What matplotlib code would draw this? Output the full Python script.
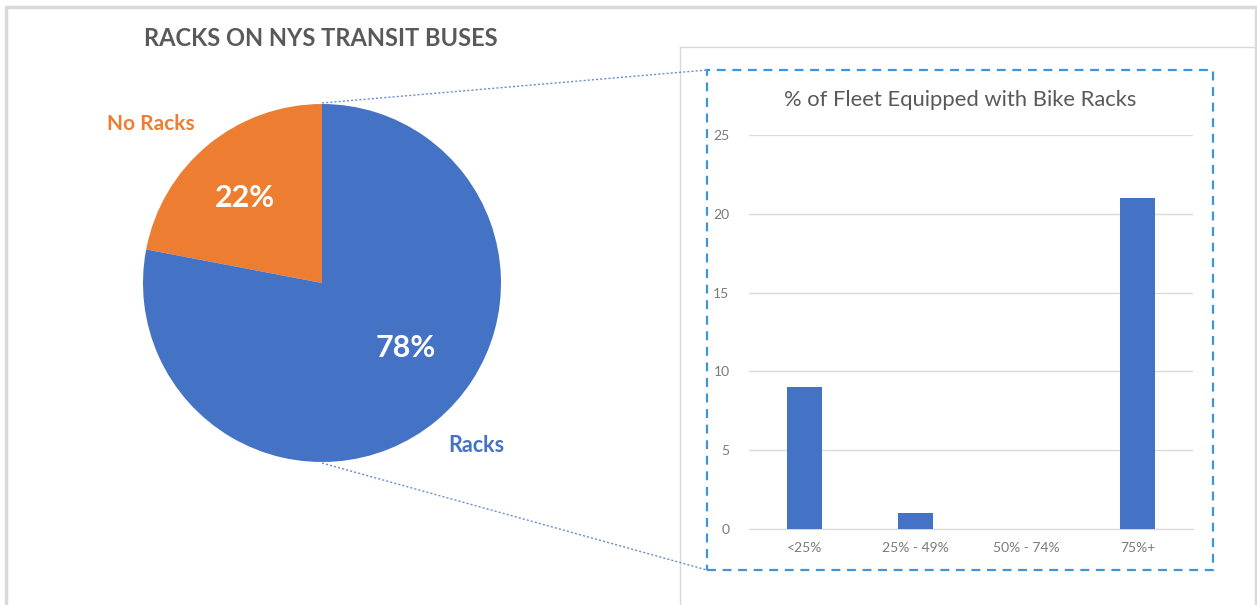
import matplotlib
matplotlib.use('Agg')
import matplotlib.pyplot as plt
from matplotlib.lines import Line2D
from matplotlib.patches import Rectangle

plt.rcParams['font.family'] = ['Lato', 'DejaVu Sans']

# --- data ---
pie_labels = ['No Racks', 'Racks']
pie_values = [22, 78]
pie_colors = ['#ED7D31', '#4472C4']

bar_cats = ['<25%', '25% - 49%', '50% - 74%', '75%+']
bar_vals = [9, 1, 0, 21]
bar_ticks = [0, 5, 10, 15, 20, 25]

W, H = 1257, 605


def fx(x):
    return x / W


def fy(y):
    return 1 - y / H


fig = plt.figure(figsize=(W / 100, H / 100), dpi=100)
fig.patch.set_facecolor('white')

# outer frame + inner panel
fig.add_artist(Rectangle((fx(6), fy(610)), fx(1256) - fx(6), fy(7) - fy(610),
                         transform=fig.transFigure, fill=False, ec='#d9d9d9', lw=2.5))
fig.add_artist(Line2D([fx(680), fx(1257)], [fy(47), fy(47)], transform=fig.transFigure,
                      color='#d9d9d9', lw=1))
fig.add_artist(Line2D([fx(680), fx(680)], [fy(47), fy(605)], transform=fig.transFigure,
                      color='#d9d9d9', lw=1))

# --- pie ---
cx, cy, r = 322, 283, 179
axp = fig.add_axes([fx(cx - r), fy(cy + r), fx(2 * r), fy(cy - r) - fy(cy + r)])
wedges, _ = axp.pie(pie_values, colors=pie_colors, startangle=90, counterclock=True,
                    radius=1.0, wedgeprops=dict(linewidth=0))
axp.set_xlim(-1, 1)
axp.set_ylim(-1, 1)
axp.axis('off')

fig.text(fx(321), fy(38), 'RACKS ON NYS TRANSIT BUSES', ha='center', va='center',
         fontsize=17, fontweight='bold', color='#595959')
fig.text(fx(151), fy(124), pie_labels[0], ha='center', va='center',
         fontsize=15, fontweight='bold', color=pie_colors[0])
fig.text(fx(476), fy(446), pie_labels[1], ha='center', va='center',
         fontsize=15.5, fontweight='bold', color=pie_colors[1])
fig.text(fx(245), fy(198), '%d%%' % pie_values[0], ha='center', va='center',
         fontsize=22, fontweight='bold', color='white')
fig.text(fx(406), fy(348), '%d%%' % pie_values[1], ha='center', va='center',
         fontsize=22, fontweight='bold', color='white')

# connector lines
fig.add_artist(Line2D([fx(cx), fx(707)], [fy(cy - r - 1), fy(70)], transform=fig.transFigure,
                      color='#4472C4', lw=1, ls=(0, (1.5, 1.5)), alpha=0.8))
fig.add_artist(Line2D([fx(cx), fx(707)], [fy(cy + r + 1), fy(570)], transform=fig.transFigure,
                      color='#4472C4', lw=1, ls=(0, (1.5, 1.5)), alpha=0.8))

# dashed box
fig.add_artist(Rectangle((fx(707), fy(570)), fx(1213) - fx(707), fy(70) - fy(570),
                         transform=fig.transFigure, fill=False, ec='#3d95dc', lw=1.6,
                         ls=(0, (4, 3))))

# --- bar chart ---
axb = fig.add_axes([fx(749), fy(529), fx(1193) - fx(749), fy(135) - fy(529)])
axb.bar(range(len(bar_cats)), bar_vals, width=0.31, color='#4472C4', zorder=3)
axb.set_xlim(-0.5, len(bar_cats) - 0.5)
axb.set_ylim(0, 25)
axb.set_yticks(bar_ticks)
axb.set_xticks(range(len(bar_cats)))
axb.set_xticklabels(bar_cats)
axb.grid(axis='y', color='#d9d9d9', lw=1, zorder=0)
for s in ('top', 'right', 'left'):
    axb.spines[s].set_visible(False)
axb.spines['bottom'].set_color('#d9d9d9')
axb.tick_params(length=0, labelsize=10, labelcolor='#7a7a7a', pad=9)
axb.tick_params(axis='y', pad=14)
axb.set_facecolor('none')

fig.text(fx(960), fy(100), '% of Fleet Equipped with Bike Racks', ha='center', va='center',
         fontsize=15.8, color='#595959')

fig.savefig('out.png', dpi=100, facecolor='white')
